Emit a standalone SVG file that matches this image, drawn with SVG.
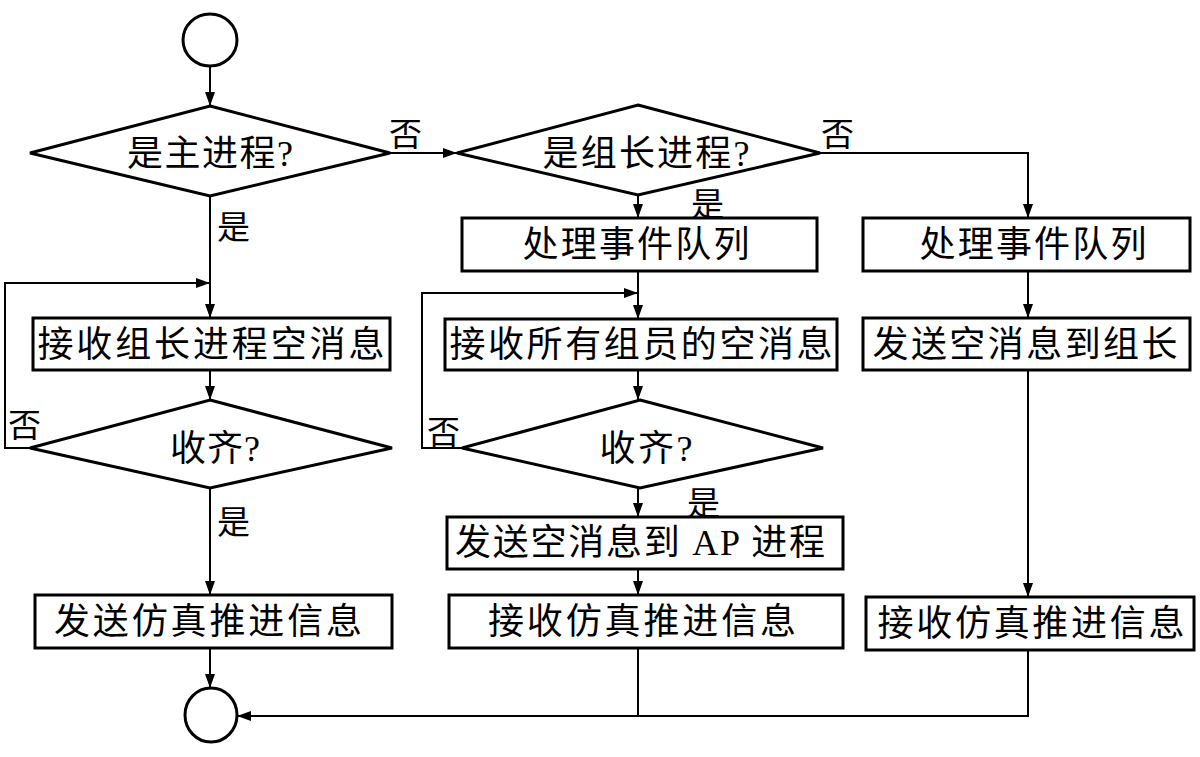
<svg xmlns="http://www.w3.org/2000/svg" width="1200" height="757" viewBox="0 0 1200 757">
<style>
.shape{fill:#fff;stroke:#000;stroke-width:3}
.conn{fill:none;stroke:#000;stroke-width:2}
.t{font-family:"Liberation Serif","Noto Sans CJK SC",serif;font-size:36px;fill:#000;text-anchor:middle}
.lbl{font-family:"Liberation Serif","Noto Sans CJK SC",serif;font-size:33px;fill:#000}
</style>
<defs>
<marker id="arr" viewBox="0 0 14 10" refX="14" refY="5" markerWidth="14" markerHeight="10" markerUnits="userSpaceOnUse" orient="auto">
<path d="M0,0 L14,5 L0,10 Z" fill="#000"/>
</marker>
</defs>
<g id="connectors">
<line class="conn" x1="210" y1="66" x2="210" y2="106" marker-end="url(#arr)"/>
<line class="conn" x1="390" y1="153" x2="457" y2="153" marker-end="url(#arr)"/>
<line class="conn" x1="210" y1="196" x2="210" y2="318" marker-end="url(#arr)"/>
<polyline class="conn" points="30,448 5,448 5,283 210,283" marker-end="url(#arr)"/>
<line class="conn" x1="210" y1="370" x2="210" y2="400" marker-end="url(#arr)"/>
<line class="conn" x1="210" y1="488" x2="210" y2="595" marker-end="url(#arr)"/>
<line class="conn" x1="210" y1="648" x2="210" y2="688" marker-end="url(#arr)"/>
<line class="conn" x1="638" y1="195" x2="638" y2="218" marker-end="url(#arr)"/>
<line class="conn" x1="638" y1="271" x2="638" y2="319" marker-end="url(#arr)"/>
<polyline class="conn" points="462,448 422,448 422,293 638,293" marker-end="url(#arr)"/>
<line class="conn" x1="638" y1="370" x2="638" y2="400" marker-end="url(#arr)"/>
<line class="conn" x1="638" y1="488" x2="638" y2="517" marker-end="url(#arr)"/>
<line class="conn" x1="638" y1="569" x2="638" y2="595" marker-end="url(#arr)"/>
<polyline class="conn" points="820,153 1028,153 1028,218" marker-end="url(#arr)"/>
<line class="conn" x1="1028" y1="271" x2="1028" y2="318" marker-end="url(#arr)"/>
<line class="conn" x1="1028" y1="370" x2="1028" y2="597" marker-end="url(#arr)"/>
<polyline class="conn" points="1028,650 1028,716 237,716" marker-end="url(#arr)"/>
<line class="conn" x1="638" y1="648" x2="638" y2="716"/>
<text class="lbl" x="389" y="146">否</text>
<text class="lbl" x="217" y="239">是</text>
<text class="lbl" x="821" y="146">否</text>
<text class="lbl" x="691" y="216">是</text>
<text class="lbl" x="8" y="437">否</text>
<text class="lbl" x="217" y="534">是</text>
<text class="lbl" x="427" y="444">否</text>
<text class="lbl" x="687" y="515">是</text>
</g>
<g id="start"><ellipse class="shape" cx="210" cy="40" rx="27" ry="26"/></g>
<g id="d_main"><polygon class="shape" points="210,106 390,153 210,196 30,153"/><text class="t" x="210" y="166" textLength="166">是主进程?</text></g>
<g id="d_leader"><polygon class="shape" points="638,105 820,153 638,195 457,153"/><text class="t" x="646" y="166" textLength="207">是组长进程?</text></g>
<g id="b_recv_leader"><rect class="shape" x="33" y="318" width="357" height="52"/><text class="t" x="211" y="357" textLength="347">接收组长进程空消息</text></g>
<g id="d_left_all"><polygon class="shape" points="210,400 392,448 210,488 30,448"/><text class="t" x="215" y="461" textLength="90">收齐?</text></g>
<g id="b_send_sim"><rect class="shape" x="35" y="595" width="357" height="53"/><text class="t" x="208" y="634" textLength="308">发送仿真推进信息</text></g>
<g id="b_mid_queue"><rect class="shape" x="462" y="218" width="355" height="53"/><text class="t" x="636" y="257" textLength="227">处理事件队列</text></g>
<g id="b_recv_members"><rect class="shape" x="445" y="319" width="392" height="51"/><text class="t" x="641" y="357" textLength="383">接收所有组员的空消息</text></g>
<g id="d_mid_all"><polygon class="shape" points="640,400 823,448 640,488 462,448"/><text class="t" x="646" y="461" textLength="93">收齐?</text></g>
<g id="b_send_ap"><rect class="shape" x="447" y="517" width="396" height="52"/><text class="t" x="640" y="555" textLength="370">发送空消息到 AP 进程</text></g>
<g id="b_mid_recv_sim"><rect class="shape" x="449" y="595" width="394" height="53"/><text class="t" x="642" y="634" textLength="308">接收仿真推进信息</text></g>
<g id="b_right_queue"><rect class="shape" x="863" y="218" width="327" height="53"/><text class="t" x="1033" y="257" textLength="227">处理事件队列</text></g>
<g id="b_right_send"><rect class="shape" x="863" y="318" width="327" height="52"/><text class="t" x="1025" y="357" textLength="305">发送空消息到组长</text></g>
<g id="b_right_recv_sim"><rect class="shape" x="866" y="597" width="328" height="53"/><text class="t" x="1031" y="636" textLength="307">接收仿真推进信息</text></g>
<g id="end"><ellipse class="shape" cx="211" cy="715" rx="26" ry="27"/></g>
</svg>
